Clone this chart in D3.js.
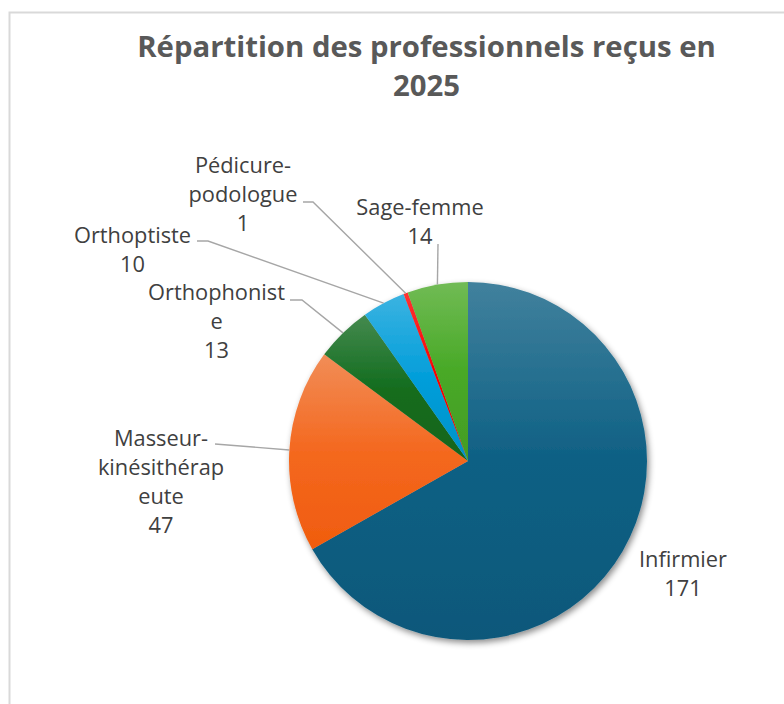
<!DOCTYPE html>
<html><head><meta charset="utf-8">
<script src="https://cdn.jsdelivr.net/npm/d3@7"></script>
<style>html,body{margin:0;padding:0;background:#fff;}svg{display:block;}</style>
</head><body>
<svg id="chart" width="784" height="704"></svg>
<script>
// ---- data ----
const titleLines = ["Répartition des professionnels reçus en", "2025"];
const categories = ["Infirmier", "Masseur-kinésithérapeute", "Orthophoniste", "Orthoptiste", "Pédicure-podologue", "Sage-femme"];
const values = [171, 47, 13, 10, 1, 14];
const labelLines = [["Infirmier"], ["Masseur-", "kinésithérap", "eute"], ["Orthophonist", "e"], ["Orthoptiste"], ["Pédicure-", "podologue"], ["Sage-femme"]];
const colors = ["#156082", "#E97132", "#196B24", "#0F9ED5", "#FF0000", "#4EA72E"];

// ---- layout (label placement, leader elbows) ----
const W = 784, H = 704;
const cx = 468, cy = 461, R = 179;
const lineH = 29;
const labelLayout = [
  {x: 683, y: 567, stub: null},
  {x: 161, y: 446, stub: [[215, 444]]},
  {x: 216.5, y: 300, stub: [[290, 300], [302, 300]]},
  {x: 132.5, y: 243, stub: [[197, 241], [208, 241]]},
  {x: 243, y: 173, stub: [[303, 202], [313, 202]]},
  {x: 420, y: 215, stub: [[438, 244]]}
];

const svg = d3.select("#chart");
const defs = svg.append("defs");

// border
svg.append("rect").attr("x", 9.5).attr("y", 12.5).attr("width", W).attr("height", H)
  .attr("fill", "none").attr("stroke", "#d9d9d9").attr("stroke-width", 2);

// title (fit first line to target width)
const title = svg.append("text").attr("text-anchor", "middle")
  .attr("font-family", "'Open Sans', sans-serif").attr("font-weight", "bold")
  .attr("font-size", 27).attr("fill", "#595959");
titleLines.forEach((t, i) => title.append("tspan").attr("x", 426.5).attr("y", 57 + i * 39).text(t));
const w0 = title.select("tspan").node().getComputedTextLength();
title.attr("font-size", 27 * 579 / w0);

// shadow filter
const f = defs.append("filter").attr("id", "shadow").attr("x", "-20%").attr("y", "-20%").attr("width", "140%").attr("height", "140%");
f.append("feDropShadow").attr("dx", 2).attr("dy", 3).attr("stdDeviation", 3)
  .attr("flood-color", "#000").attr("flood-opacity", 0.45);

// gradients: lighter tint at top, saturated base, slightly darker shade at bottom
function shade(c, sMul, lMul) {
  const h = d3.hsl(c);
  h.s = Math.min(1, h.s * sMul);
  h.l = h.l * lMul;
  return h.formatHex();
}
colors.forEach((c, i) => {
  const g = defs.append("linearGradient").attr("id", "grad" + i)
    .attr("x1", 0).attr("y1", 0).attr("x2", 0).attr("y2", 1);
  g.append("stop").attr("offset", "0%").attr("stop-color", d3.interpolateRgb(shade(c, 1.05, 1), "#ffffff")(0.2));
  g.append("stop").attr("offset", "50%").attr("stop-color", shade(c, 1.12, 0.97));
  g.append("stop").attr("offset", "100%").attr("stop-color", shade(c, 1.1, 0.9));
});

const pie = d3.pie().sort(null).value(d => d)(values);
const arc = d3.arc().innerRadius(0).outerRadius(R);
const edgeArc = d3.arc().innerRadius(R).outerRadius(R);

const gPie = svg.append("g").attr("transform", `translate(${cx},${cy})`).attr("filter", "url(#shadow)");
gPie.selectAll("path").data(pie).join("path")
  .attr("d", arc)
  .attr("fill", (d, i) => `url(#grad${i})`);

// leader lines
const lineGen = d3.line();
pie.forEach((d, i) => {
  const L = labelLayout[i];
  if (!L.stub) return;
  const e = edgeArc.centroid(d);
  const pts = L.stub.concat([[cx + e[0], cy + e[1]]]);
  svg.append("path").attr("d", lineGen(pts)).attr("fill", "none")
    .attr("stroke", "#a6a6a6").attr("stroke-width", 1.4);
});

// labels
pie.forEach((d, i) => {
  const L = labelLayout[i];
  const t = svg.append("text").attr("text-anchor", "middle")
    .attr("font-family", "'Open Sans', sans-serif").attr("font-size", 21.8).attr("fill", "#404040");
  const lines = labelLines[i].concat([String(values[i])]);
  lines.forEach((s, k) => t.append("tspan").attr("x", L.x).attr("y", L.y + k * lineH).text(s));
});
</script>
</body></html>
